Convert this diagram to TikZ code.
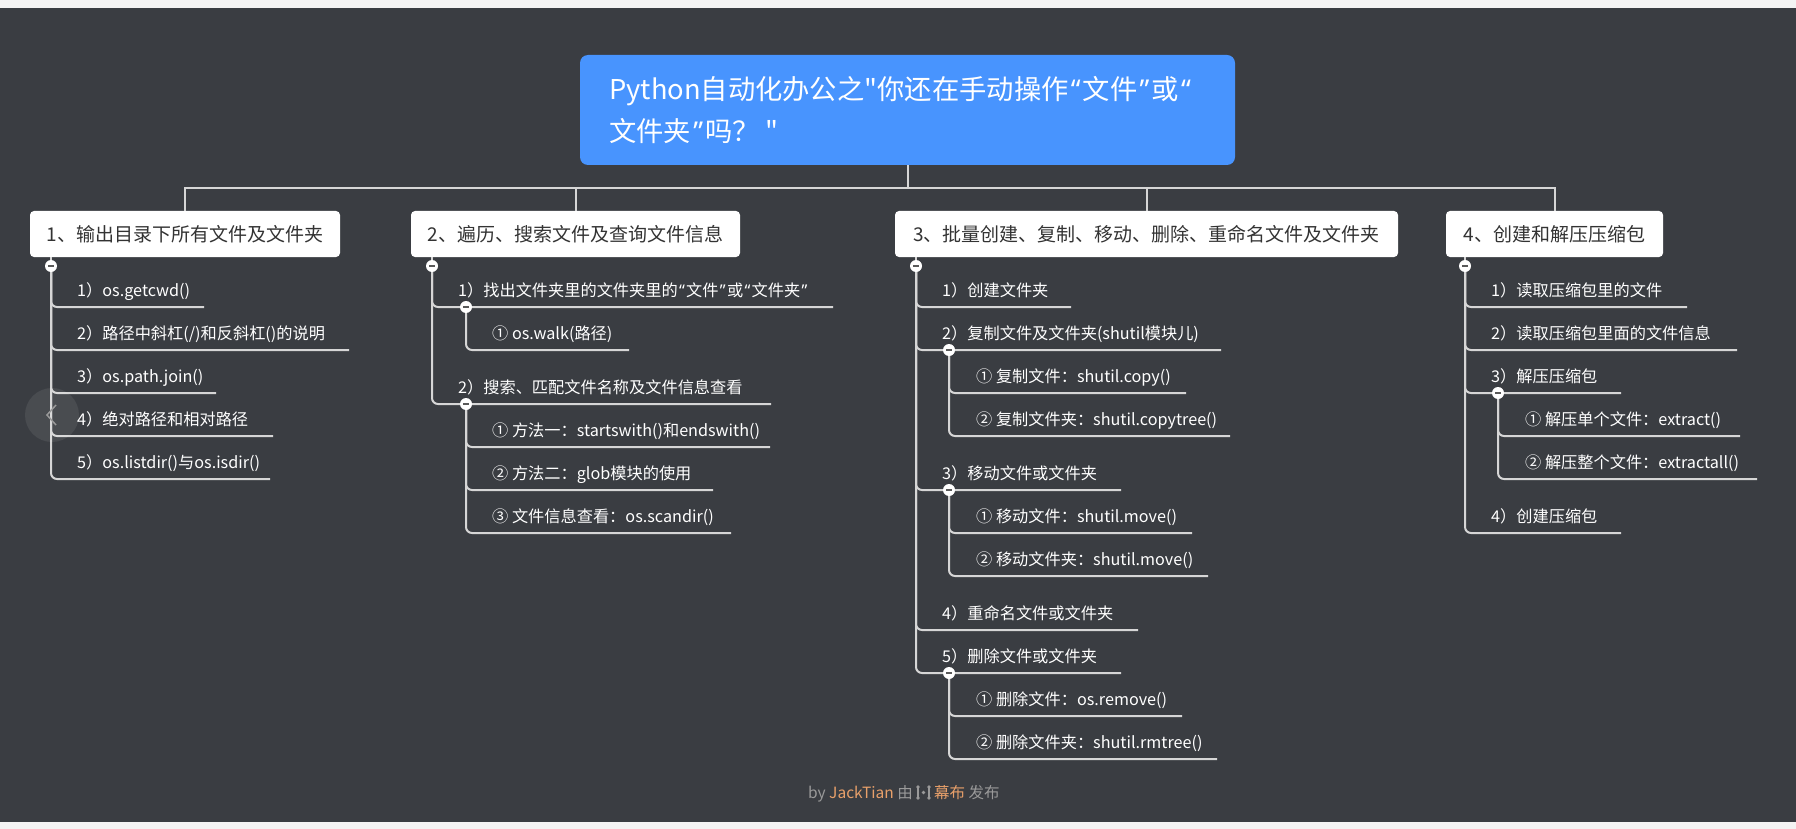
\documentclass[tikz,border=0pt]{standalone}
\usepackage{fontspec}
\newfontfamily\mf{Noto Sans CJK SC}
\newfontfamily\qf{Noto Sans}
\newcommand\oq{{\kern0.08em\qf “\kern0.08em}}
\newcommand\cq{{\kern0.08em\qf ”\kern0.08em}}
\definecolor{bg}{HTML}{3A3D42}
\definecolor{band}{HTML}{F4F4F4}
\definecolor{lineclr}{HTML}{D6D6D6}
\definecolor{rootblue}{HTML}{4894FE}
\definecolor{hdrtext}{HTML}{333333}
\definecolor{footgray}{HTML}{9A9A9A}
\definecolor{footorange}{HTML}{E8A06A}
\tikzset{
  conn/.style={draw=lineclr, line width=2pt, rounded corners=6pt},
  barline/.style={draw=lineclr, line width=2pt},
  rootbox/.style={rectangle, rounded corners=8pt, fill=rootblue, minimum width=655pt, minimum height=110pt, inner sep=0pt},
  roottext/.style={text=white, align=left, inner sep=0pt, font=\mf\fontsize{27.3}{42}\selectfont},
  hdr/.style={rectangle, rounded corners=4pt, fill=white, text=hdrtext, minimum height=46pt, inner sep=0pt, font=\mf\fontsize{19}{22}\selectfont},
  itemtext/.style={text=white, inner sep=0pt, anchor=base west, font=\mf\fontsize{16.2}{19}\selectfont},
  collapse/.style={circle, fill=white, minimum size=12pt, inner sep=0pt,
    path picture={\draw[line width=2pt, draw=black!65] ([xshift=-3pt]path picture bounding box.center) -- ([xshift=3pt]path picture bounding box.center);}},
  foottext/.style={inner sep=0pt, font=\mf\fontsize{15.5}{18}\selectfont}
}
% #1 name, #2 parent coordinate, #3 text x, #4 underline y, #5 underline end x, #6 text
\newcommand\mmleaf[6]{%
  \coordinate (#1e) at (#5,#4);
  \draw[conn] (#2) |- (#1e);
  \node[itemtext] (#1) at (#3,#4-11) {#6};
}
\begin{document}
\begin{tikzpicture}[x=1pt,y=-1pt]
\useasboundingbox (0,0) rectangle (1796,829);
\fill[band] (0,0) rectangle (1796,829);
\fill[bg] (0,8) rectangle (1796,822);

% root
\node[rootbox] (root) at (907.5,110) {};
\node[roottext, anchor=west] (title) at (609,110) {Python自动化办公之"你还在手动操作\oq 文件\cq 或\oq\\文件夹\cq 吗？ "};

% headers
\node[hdr, minimum width=310pt] (h1) at (185,234) {1、输出目录下所有文件及文件夹};
\node[hdr, minimum width=329pt] (h2) at (575.5,234) {2、遍历、搜索文件及查询文件信息};
\node[hdr, minimum width=503pt] (h3) at (1146.5,234) {3、批量创建、复制、移动、删除、重命名文件及文件夹};
\node[hdr, minimum width=217pt] (h4) at (1554.5,234) {4、创建和解压压缩包};

\coordinate (bar) at (907.5,188);
\draw[barline] (root.south) -- (root.south |- bar);
\draw[barline] (h1.north) -- (h1.north |- bar) -- (h4.north |- bar) -- (h4.north);
\draw[barline] (h2.north) -- (h2.north |- bar);
\draw[barline] (h3.north) -- (h3.north |- bar);

% collapse points
\coordinate (c1) at (51,266);
\coordinate (c2) at (432,266);
\coordinate (c3) at (916,266);
\coordinate (c4) at (1465,266);
\draw[barline] (h1.south -| c1) -- (c1);
\draw[barline] (h2.south -| c2) -- (c2);
\draw[barline] (h3.south -| c3) -- (c3);
\draw[barline] (h4.south -| c4) -- (c4);

% branch 1
\mmleaf{a1}{c1}{77}{307}{204}{1）os.getcwd()}
\mmleaf{a2}{c1}{77}{350}{349}{2）路径中斜杠(/)和反斜杠()的说明}
\mmleaf{a3}{c1}{77}{393}{216}{3）os.path.join()}
\mmleaf{a4}{c1}{77}{436}{273}{4）绝对路径和相对路径}
\mmleaf{a5}{c1}{77}{479}{270}{5）os.listdir()与os.isdir()}

% branch 2
\mmleaf{b1}{c2}{458}{307}{833}{1）找出文件夹里的文件夹里的\oq 文件\cq 或\oq 文件夹\cq}
\coordinate (s21) at (466,307);
\mmleaf{b11}{s21}{492}{350}{629}{① os.walk(路径)}
\mmleaf{b2}{c2}{458}{404}{771}{2）搜索、匹配文件名称及文件信息查看}
\coordinate (s22) at (466,404);
\mmleaf{b21}{s22}{492}{447}{770}{① 方法一：startswith()和endswith()}
\mmleaf{b22}{s22}{492}{490}{713}{② 方法二：glob模块的使用}
\mmleaf{b23}{s22}{492}{533}{731}{③ 文件信息查看：os.scandir()}

% branch 3
\mmleaf{d1}{c3}{942}{307}{1071}{1）创建文件夹}
\mmleaf{d2}{c3}{942}{350}{1221}{2）复制文件及文件夹(shutil模块儿)}
\coordinate (s32) at (949,350);
\mmleaf{d21}{s32}{976}{393}{1186}{① 复制文件：shutil.copy()}
\mmleaf{d22}{s32}{976}{436}{1230}{② 复制文件夹：shutil.copytree()}
\mmleaf{d3}{c3}{942}{490}{1121}{3）移动文件或文件夹}
\coordinate (s33) at (949,490);
\mmleaf{d31}{s33}{976}{533}{1192}{① 移动文件：shutil.move()}
\mmleaf{d32}{s33}{976}{576}{1208}{② 移动文件夹：shutil.move()}
\mmleaf{d4}{c3}{942}{630}{1138}{4）重命名文件或文件夹}
\mmleaf{d5}{c3}{942}{673}{1121}{5）删除文件或文件夹}
\coordinate (s35) at (949,673);
\mmleaf{d51}{s35}{976}{716}{1182}{① 删除文件：os.remove()}
\mmleaf{d52}{s35}{976}{759}{1217}{② 删除文件夹：shutil.rmtree()}

% branch 4
\mmleaf{g1}{c4}{1491}{307}{1687}{1）读取压缩包里的文件}
\mmleaf{g2}{c4}{1491}{350}{1737}{2）读取压缩包里面的文件信息}
\mmleaf{g3}{c4}{1491}{393}{1621}{3）解压压缩包}
\coordinate (s43) at (1498,393);
\mmleaf{g31}{s43}{1525}{436}{1740}{① 解压单个文件：extract()}
\mmleaf{g32}{s43}{1525}{479}{1757}{② 解压整个文件：extractall()}
\mmleaf{g4}{c4}{1491}{533}{1621}{4）创建压缩包}

% collapse markers
\foreach \c in {c1,c2,c3,c4,s21,s22,s32,s33,s35,s43}
  \node[collapse] (k\c) at (\c) {};

% carousel button overlay
\fill[white, opacity=0.08] (52,415) circle (27pt);
\draw[footgray, line width=1.5pt] (56,405) -- (47,415) -- (56,425);

% footer
\node[foottext, anchor=base east] (f1) at (913,798) {\textcolor{footgray}{by} \textcolor{footorange}{JackTian} \textcolor{footgray}{由}};
\node[foottext, anchor=base west] (f2) at (934,798) {\textcolor{footorange}{幕布} \textcolor{footgray}{发布}};
\draw[footgray, line width=1.3pt] (918,787) -- (918,798) (929,787) -- (929,798);
\fill[footgray] (918,787) circle (1.8pt) (918,798) circle (1.8pt) (923.5,792.5) circle (1.8pt) (929,787) circle (1.8pt) (929,798) circle (1.8pt);
\end{tikzpicture}
\end{document}
